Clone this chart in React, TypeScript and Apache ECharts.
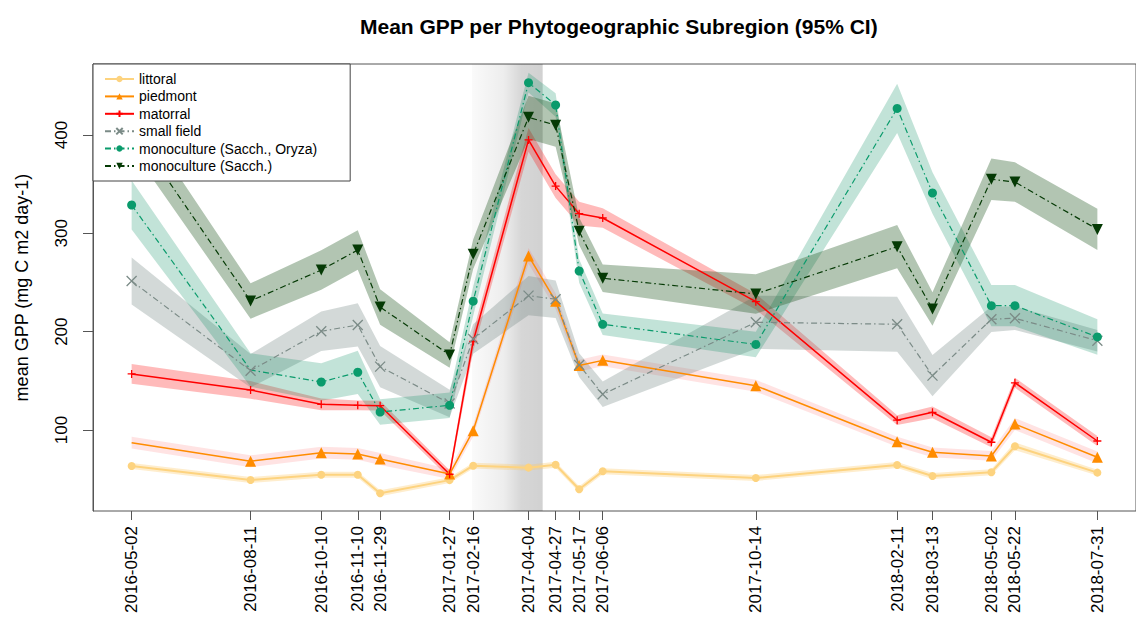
import React, { useEffect, useRef } from 'react';
import * as echarts from 'echarts';

// ---- data ----
const dates = [
  '2016-05-02', '2016-08-11', '2016-10-10', '2016-11-10', '2016-11-29',
  '2017-01-27', '2017-02-16', '2017-04-04', '2017-04-27', '2017-05-17',
  '2017-06-06', '2017-10-14', '2018-02-11', '2018-03-13', '2018-05-02',
  '2018-05-22', '2018-07-31',
];

const littoral = [63.4, 49.1, 54.5, 54.5, 35.6, 49.0, 63.7, 61.7, 64.7, 39.7, 58.0, 51.2, 64.4, 53.2, 57.0, 83.4, 56.6];
const littoralCI = [3, 3, 3, 3, 3, 3, 3, 3, 3, 3, 3, 3, 3, 3, 3, 4, 3];

const piedmont = [87.1, 68.2, 76.9, 75.6, 70.5, 55.2, 99.3, 277.0, 231.0, 165.5, 170.8, 145.0, 88.0, 77.3, 73.6, 106.0, 72.2];
const piedmontCI = [6, 6, 6, 6, 6, 5, 6, 8, 8, 6, 6, 6, 5, 5, 5, 6, 6];

const matorral = [157.0, 140.7, 126.1, 125.1, 124.7, 55.0, 190.0, 395.0, 348.0, 320.0, 315.6, 230.5, 110.0, 118.0, 87.5, 148.0, 88.8];
const matorralCI = [10, 9, 6, 5, 5, 4, 10, 12, 12, 12, 10, 8, 5, 6, 5, 5, 5];

const smallField = [251.5, 160.3, 200.4, 206.8, 164.4, 127.0, 192.5, 236.6, 233.0, 166.0, 136.3, 209.5, 207.5, 155.3, 212.6, 213.6, 190.8];
const smallFieldCI = [24, 17, 20, 22, 21, 14, 15, 20, 19, 12, 13, 27, 28, 21, 13, 12, 11];

const monoOryza = [328.8, 161.0, 148.8, 158.7, 118.3, 125.1, 231.0, 453.2, 430.5, 261.7, 207.5, 187.0, 427.0, 341.0, 226.4, 226.4, 194.6];
const monoOryzaCI = [25, 17, 19, 22, 13, 13, 15, 10, 12, 12, 11, 13, 25, 21, 21, 21, 18];

const monoSacch = [408.0, 231.2, 262.7, 283.0, 225.0, 176.3, 278.7, 418.0, 410.0, 302.0, 254.3, 238.3, 286.4, 223.0, 355.0, 352.2, 304.0];
const monoSacchCI = [22, 18, 20, 20, 18, 13, 15, 22, 22, 14, 14, 20, 22, 17, 21, 20, 21];

const yTicks = [100, 200, 300, 400];
const shadedPeriod = ['2017-02-15', '2017-04-16'];

// ---- helpers ----
const ts = (s: string) => {
  const [y, m, d] = s.split('-').map(Number);
  return new Date(y, m - 1, d).getTime();
};
const pad = (n: number) => (n < 10 ? '0' + n : '' + n);
const fmt = (v: number) => {
  const d = new Date(v);
  return `${d.getFullYear()}-${pad(d.getMonth() + 1)}-${pad(d.getDate())}`;
};

const FONT = '"Liberation Sans", Arial, Helvetica, sans-serif';
const dashDot = [6, 3, 1.5, 3];

const SYM_PLUS = 'path://M5,0L5,10M0,5L10,5';
const SYM_X = 'path://M0,0L10,10M10,0L0,10';

type Def = {
  name: string;
  mean: number[];
  ci: number[];
  color: string;
  band: string;
  symbol: string;
  size: number;
  rotate?: number;
  dash: any;
  width: number;
  stroke?: boolean;
  noMarker: number[];
};

const defs: Def[] = [
  { name: 'littoral', mean: littoral, ci: littoralCI, color: '#fdd37f', band: 'rgba(252,200,100,0.32)', symbol: 'circle', size: 8, dash: 'solid', width: 2, noMarker: [] },
  { name: 'piedmont', mean: piedmont, ci: piedmontCI, color: '#ff8c00', band: 'rgba(255,60,60,0.14)', symbol: 'triangle', size: 11, dash: 'solid', width: 1.5, noMarker: [0] },
  { name: 'matorral', mean: matorral, ci: matorralCI, color: '#ff0000', band: 'rgba(255,0,0,0.27)', symbol: SYM_PLUS, size: 8, dash: 'solid', width: 1.5, stroke: true, noMarker: [] },
  { name: 'small field', mean: smallField, ci: smallFieldCI, color: '#7b8b87', band: 'rgba(110,130,125,0.3)', symbol: SYM_X, size: 10, dash: dashDot, width: 1.2, stroke: true, noMarker: [] },
  { name: 'monoculture (Sacch., Oryza)', mean: monoOryza, ci: monoOryzaCI, color: '#0a9b6c', band: 'rgba(0,140,90,0.24)', symbol: 'circle', size: 9, dash: dashDot, width: 1.2, noMarker: [1] },
  { name: 'monoculture (Sacch.)', mean: monoSacch, ci: monoSacchCI, color: '#053a05', band: 'rgba(20,80,20,0.33)', symbol: 'triangle', size: 11, rotate: 180, dash: dashDot, width: 1.2, noMarker: [] },
];

export default function App() {
  const ref = useRef<HTMLDivElement>(null);

  useEffect(() => {
    if (!ref.current) return;
    const chart = echarts.init(ref.current, undefined, { renderer: 'svg' });
    const times = dates.map(ts);
    const t0 = times[0];
    const t1 = times[times.length - 1];
    const ext = (t1 - t0) * 0.04;

    // CI bands as polygons drawn through the axes' scales
    const bandSeries: any[] = defs.map((d, k) => ({
      type: 'custom',
      name: '__band' + k,
      data: [[times[0], d.mean[0]]],
      encode: { x: 0, y: 1 },
      silent: true,
      z: 2,
      renderItem: (_params: any, api: any) => {
        const upper = d.mean.map((v, i) => api.coord([times[i], v + d.ci[i]]));
        const lower = d.mean.map((v, i) => api.coord([times[i], v - d.ci[i]])).reverse();
        return {
          type: 'polygon',
          shape: { points: upper.concat(lower) },
          style: { fill: d.band, stroke: 'none' },
          silent: true,
        };
      },
    }));

    const lineSeries: any[] = defs.map((d) => ({
      type: 'line',
      name: d.name,
      data: d.mean.map((v, i) =>
        d.noMarker.includes(i) ? { value: [times[i], v], symbol: 'none' } : [times[i], v]
      ),
      symbol: d.symbol,
      symbolSize: d.size,
      symbolRotate: d.rotate || 0,
      showAllSymbol: true,
      lineStyle: { color: d.color, width: d.width, type: d.dash },
      itemStyle: d.stroke
        ? { color: d.color, borderColor: d.color, borderWidth: 1.3 }
        : { color: d.color, borderWidth: 0 },
      z: 3,
      emphasis: { disabled: true },
    }));

    lineSeries[0].markArea = {
      silent: true,
      z: 1,
      itemStyle: {
        color: {
          type: 'linear', x: 0, y: 0, x2: 1, y2: 0,
          colorStops: [
            { offset: 0, color: 'rgba(0,0,0,0.02)' },
            { offset: 0.45, color: 'rgba(0,0,0,0.07)' },
            { offset: 0.7, color: 'rgba(0,0,0,0.16)' },
            { offset: 1, color: 'rgba(0,0,0,0.18)' },
          ],
        },
      },
      data: [[{ xAxis: ts(shadedPeriod[0]) }, { xAxis: ts(shadedPeriod[1]) }]],
    };

    chart.setOption({
      animation: false,
      textStyle: { fontFamily: FONT },
      title: {
        text: 'Mean GPP per Phytogeographic Subregion (95% CI)',
        left: 355,
        top: 11,
        textStyle: { fontFamily: FONT, fontSize: 21, fontWeight: 'bold', color: '#000' },
      },
      grid: {
        left: 93,
        top: 64,
        width: 1048,
        height: 447,
        show: true,
        borderColor: '#555',
        borderWidth: 1,
        backgroundColor: 'transparent',
      },
      legend: {
        data: defs.map((d) => d.name),
        orient: 'vertical',
        left: 93,
        top: 64,
        padding: [8, 33, 8, 11],
        itemWidth: 29,
        itemHeight: 8,
        itemGap: 3.4,
        backgroundColor: '#fff',
        borderColor: '#444',
        borderWidth: 1,
        selectedMode: false,
        textStyle: { fontFamily: FONT, fontSize: 14, lineHeight: 14, color: '#000' },
        z: 10,
      },
      xAxis: {
        type: 'value',
        min: t0 - ext,
        max: t1 + ext,
        splitLine: { show: false },
        axisLine: { show: false },
        axisTick: {
          show: true,
          customValues: times,
          length: 9,
          lineStyle: { color: '#555', width: 1 },
        },
        axisLabel: {
          customValues: times,
          rotate: 90,
          margin: 15,
          fontFamily: FONT,
          fontSize: 17,
          color: '#000',
          formatter: (v: number) => fmt(v),
        },
      },
      yAxis: {
        type: 'value',
        min: 17.6,
        max: 472.2,
        name: 'mean GPP (mg C m2 day-1)',
        nameLocation: 'middle',
        nameRotate: 90,
        nameGap: 62,
        nameTextStyle: { fontFamily: FONT, fontSize: 18, color: '#000' },
        splitLine: { show: false },
        axisLine: { show: true, lineStyle: { color: '#555' } },
        axisTick: {
          show: true,
          customValues: yTicks,
          length: 10,
          lineStyle: { color: '#555' },
        },
        axisLabel: { show: false },
      },
      series: [...bandSeries, ...lineSeries],
    });

    // y tick labels, rotated like R's default (reading bottom to top)
    const yLabels = yTicks.map((v) => {
      const p = chart.convertToPixel({ yAxisIndex: 0 }, v) as number;
      return {
        type: 'text',
        x: 70,
        y: p,
        rotation: Math.PI / 2,
        silent: true,
        style: {
          text: String(v),
          fontFamily: FONT,
          fontSize: 17,
          fill: '#000',
          align: 'center',
          verticalAlign: 'bottom',
        },
      };
    });
    chart.setOption({ graphic: yLabels });

    return () => chart.dispose();
  }, []);

  return (
    <div
      ref={ref}
      style={{ position: 'fixed', left: 0, top: 0, width: 1136, height: 621, background: '#fff' }}
    />
  );
}
